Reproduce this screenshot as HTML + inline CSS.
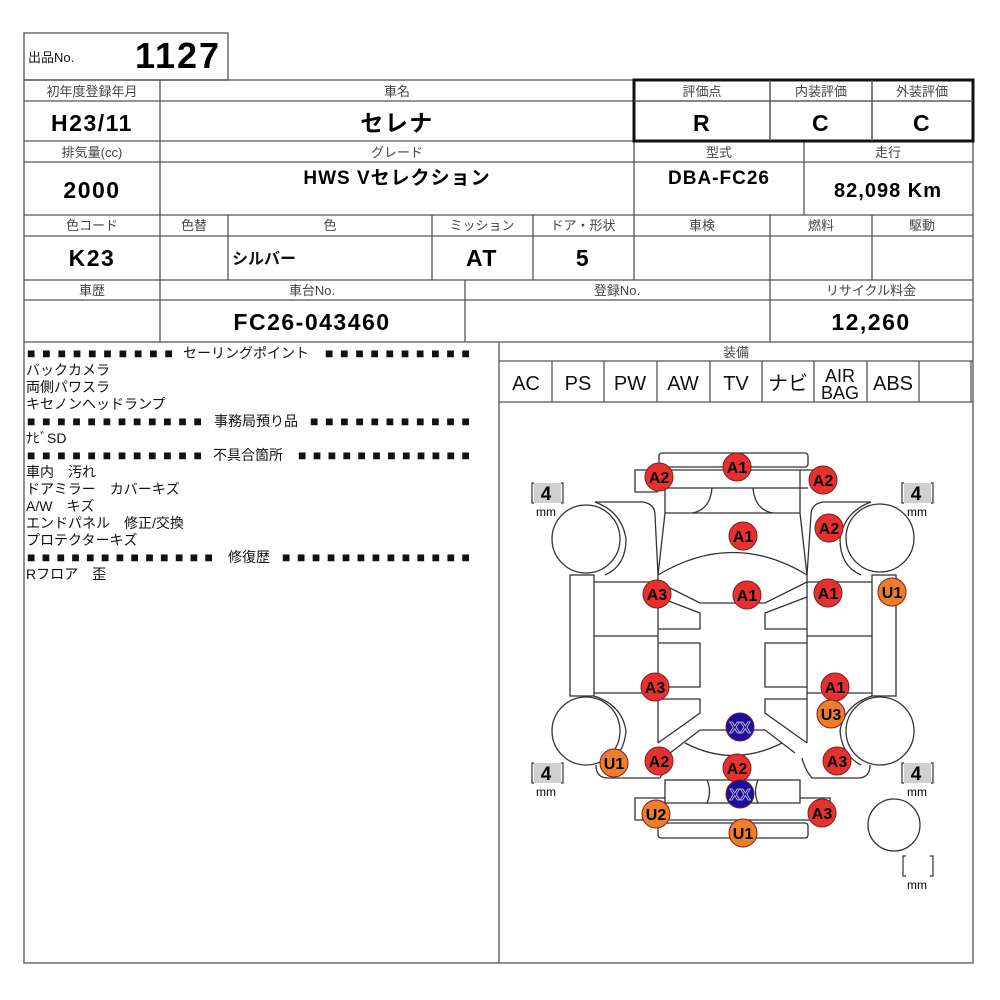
<!DOCTYPE html>
<html><head><meta charset="utf-8"><style>
html,body{margin:0;padding:0;background:#fff;}
svg{display:block;}
text{font-family:"Liberation Sans","Noto Sans CJK JP",sans-serif;}
.lb{font-size:13px;fill:#444;text-anchor:middle;}
.v{font-size:23px;font-weight:bold;fill:#000;text-anchor:middle;letter-spacing:1.5px;}
.t{font-size:14px;fill:#111;}
.eq{font-size:20px;fill:#111;text-anchor:middle;}
.m{font-size:16px;font-weight:bold;text-anchor:middle;fill:#000;}
</style></head><body>
<svg width="1000" height="1000" viewBox="0 0 1000 1000" xmlns="http://www.w3.org/2000/svg">
<g stroke="#555" stroke-width="1.3" fill="none">
<rect x="24" y="33" width="204" height="47"/>
<rect x="24" y="80" width="949" height="883"/>
<line x1="24" y1="101" x2="973" y2="101"/>
<line x1="24" y1="141" x2="973" y2="141"/>
<line x1="24" y1="162" x2="973" y2="162"/>
<line x1="24" y1="215" x2="973" y2="215"/>
<line x1="24" y1="236" x2="973" y2="236"/>
<line x1="24" y1="280" x2="973" y2="280"/>
<line x1="24" y1="300" x2="973" y2="300"/>
<line x1="24" y1="342" x2="973" y2="342"/>
<line x1="160" y1="80" x2="160" y2="342"/>
<line x1="634" y1="80" x2="634" y2="280"/>
<line x1="770" y1="80" x2="770" y2="141"/>
<line x1="872" y1="80" x2="872" y2="141"/>
<line x1="804" y1="141" x2="804" y2="215"/>
<line x1="228" y1="215" x2="228" y2="280"/>
<line x1="432" y1="215" x2="432" y2="280"/>
<line x1="533" y1="215" x2="533" y2="280"/>
<line x1="770" y1="215" x2="770" y2="342"/>
<line x1="872" y1="215" x2="872" y2="280"/>
<line x1="465" y1="280" x2="465" y2="342"/>
<line x1="499" y1="342" x2="499" y2="963"/>
<line x1="499" y1="361" x2="973" y2="361"/>
<line x1="499" y1="402" x2="973" y2="402"/>
<line x1="552" y1="361" x2="552" y2="402"/>
<line x1="604" y1="361" x2="604" y2="402"/>
<line x1="657" y1="361" x2="657" y2="402"/>
<line x1="710" y1="361" x2="710" y2="402"/>
<line x1="762" y1="361" x2="762" y2="402"/>
<line x1="814" y1="361" x2="814" y2="402"/>
<line x1="867" y1="361" x2="867" y2="402"/>
<line x1="919" y1="361" x2="919" y2="402"/>
<line x1="971" y1="361" x2="971" y2="402"/>
</g>
<rect x="634" y="80" width="339" height="61" fill="none" stroke="#111" stroke-width="3"/>
<line x1="770" y1="80" x2="770" y2="141" stroke="#555" stroke-width="1.3"/>
<line x1="872" y1="80" x2="872" y2="141" stroke="#555" stroke-width="1.3"/>
<line x1="634" y1="101" x2="973" y2="101" stroke="#555" stroke-width="1.3"/>

<text x="28" y="62" class="t" style="font-size:13px">出品No.</text>
<text x="178" y="68" style="font-size:36px;font-weight:bold;text-anchor:middle;letter-spacing:2px">1127</text>
<text x="92" y="96" class="lb">初年度登録年月</text>
<text x="397" y="96" class="lb">車名</text>
<text x="702" y="96" class="lb">評価点</text>
<text x="821" y="96" class="lb">内装評価</text>
<text x="922" y="96" class="lb">外装評価</text>
<text x="92" y="131" class="v">H23/11</text>
<text x="397" y="131" class="v">セレナ</text>
<text x="702" y="131" class="v">R</text>
<text x="821" y="131" class="v">C</text>
<text x="922" y="131" class="v">C</text>
<text x="92" y="157" class="lb">排気量(cc)</text>
<text x="397" y="157" class="lb">グレード</text>
<text x="719" y="157" class="lb">型式</text>
<text x="888" y="157" class="lb">走行</text>
<text x="92" y="198" class="v">2000</text>
<text x="397" y="184" class="v" style="font-size:19px;letter-spacing:1px">HWS Vセレクション</text>
<text x="719" y="184" class="v" style="font-size:19px;letter-spacing:1px">DBA-FC26</text>
<text x="888" y="197" class="v" style="font-size:20px;letter-spacing:1px">82,098 Km</text>
<text x="92" y="230" class="lb">色コード</text>
<text x="194" y="230" class="lb">色替</text>
<text x="330" y="230" class="lb">色</text>
<text x="482" y="230" class="lb">ミッション</text>
<text x="583" y="230" class="lb">ドア・形状</text>
<text x="702" y="230" class="lb">車検</text>
<text x="821" y="230" class="lb">燃料</text>
<text x="922" y="230" class="lb">駆動</text>
<text x="92" y="266" class="v">K23</text>
<text x="232" y="264" class="t" style="font-size:16px;font-weight:bold">シルバー</text>
<text x="482" y="266" class="v">AT</text>
<text x="583" y="266" class="v">5</text>
<text x="92" y="295" class="lb">車歴</text>
<text x="312" y="295" class="lb">車台No.</text>
<text x="617" y="295" class="lb">登録No.</text>
<text x="871" y="295" class="lb">リサイクル料金</text>
<text x="312" y="330" class="v">FC26-043460</text>
<text x="871" y="330" class="v">12,260</text>

<g class="t">
<text x="27" y="358" textLength="146" lengthAdjust="spacing">■■■■■■■■■■</text>
<text x="183" y="358">セーリングポイント</text>
<text x="325" y="358" textLength="145" lengthAdjust="spacing">■■■■■■■■■■</text>
<text x="26" y="375">バックカメラ</text>
<text x="26" y="392">両側パワスラ</text>
<text x="26" y="409">キセノンヘッドランプ</text>
<text x="27" y="426" textLength="175" lengthAdjust="spacing">■■■■■■■■■■■■</text>
<text x="214" y="426">事務局預り品</text>
<text x="310" y="426" textLength="160" lengthAdjust="spacing">■■■■■■■■■■■</text>
<text x="26" y="443">ﾅﾋﾞSD</text>
<text x="27" y="460" textLength="175" lengthAdjust="spacing">■■■■■■■■■■■■</text>
<text x="213" y="460">不具合箇所</text>
<text x="298" y="460" textLength="172" lengthAdjust="spacing">■■■■■■■■■■■■</text>
<text x="26" y="477">車内　汚れ</text>
<text x="26" y="494">ドアミラー　カバーキズ</text>
<text x="26" y="511">A/W　キズ</text>
<text x="26" y="528">エンドパネル　修正/交換</text>
<text x="26" y="545">プロテクターキズ</text>
<text x="27" y="562" textLength="186" lengthAdjust="spacing">■■■■■■■■■■■■■</text>
<text x="228" y="562">修復歴</text>
<text x="282" y="562" textLength="188" lengthAdjust="spacing">■■■■■■■■■■■■■</text>
<text x="26" y="579">Rフロア　歪</text>
</g>

<text x="736" y="357" class="lb">装備</text>
<text x="526" y="390" class="eq">AC</text>
<text x="578" y="390" class="eq">PS</text>
<text x="630" y="390" class="eq">PW</text>
<text x="683" y="390" class="eq">AW</text>
<text x="736" y="390" class="eq">TV</text>
<text x="788" y="390" class="eq">ナビ</text>
<text x="840" y="382" class="eq" style="font-size:18px">AIR</text>
<text x="840" y="399" class="eq" style="font-size:18px">BAG</text>
<text x="893" y="390" class="eq">ABS</text>

<g stroke="#333" stroke-width="1.3" fill="none">
<rect x="659" y="453" width="149" height="14" rx="3"/>
<path d="M659,470 L635,470 L635,492 L658,492"/>
<path d="M665,470 L830,470 L830,488"/>
<line x1="665" y1="470" x2="665" y2="513"/>
<line x1="800" y1="470" x2="800" y2="513"/>
<line x1="658" y1="488" x2="808" y2="488"/>
<line x1="665" y1="513" x2="800" y2="513"/>
<path d="M712,488 Q710,510 692,513"/>
<path d="M753,488 Q755,510 773,513"/>
<line x1="665" y1="513" x2="658" y2="575"/>
<line x1="800" y1="513" x2="807" y2="575"/>
<path d="M658,575 Q733,530 807,575"/>
<circle cx="586" cy="539" r="34"/><circle cx="880" cy="538" r="34"/>
<circle cx="586" cy="731" r="34"/><circle cx="880" cy="731" r="34"/>
<circle cx="894" cy="825" r="26"/>
<path d="M595,502 L643,502 Q655,504 655,515 L658,575"/>
<path d="M595,502 Q622,512 626,539 Q626,566 605,575"/>
<path d="M871,502 L823,502 Q811,504 811,515 L807,575"/>
<path d="M871,502 Q844,512 840,539 Q840,566 861,575"/>
<rect x="570" y="575" width="24" height="121"/>
<rect x="872" y="575" width="24" height="121"/>
<line x1="658" y1="575" x2="658" y2="743"/>
<line x1="807" y1="575" x2="807" y2="743"/>
<line x1="594" y1="582" x2="658" y2="582"/>
<line x1="594" y1="636" x2="658" y2="636"/>
<line x1="594" y1="693" x2="658" y2="693"/>
<line x1="807" y1="582" x2="872" y2="582"/>
<line x1="807" y1="636" x2="872" y2="636"/>
<line x1="807" y1="693" x2="872" y2="693"/>
<path d="M658,582 L700,603 L765,603 L807,582"/>
<path d="M658,597 L700,613 L700,629 L658,629"/>
<path d="M807,597 L765,613 L765,629 L807,629"/>
<path d="M658,643 L700,643 L700,687 L658,687"/>
<path d="M807,643 L765,643 L765,687 L807,687"/>
<path d="M658,699 L700,699 L700,713 L658,743"/>
<path d="M807,699 L765,699 L765,713 L807,743"/>
<path d="M670,753 L700,730 L765,730 L795,753"/>
<path d="M685,743 Q733,768 782,743"/>
<path d="M594,696 Q622,705 626,731 Q624,755 605,765"/>
<path d="M872,696 Q844,705 840,731 Q842,755 861,765"/>
<path d="M596,765 Q596,778 608,778 L660,778 L670,760"/>
<path d="M870,765 Q870,778 858,778 L812,778 Q805,770 802,758"/>
<rect x="665" y="780" width="135" height="23"/>
<path d="M707,780 Q712,792 707,803"/>
<path d="M758,780 Q753,792 758,803"/>
<path d="M665,798 L635,798 L635,820 L830,820 L830,798 L800,798"/>
<rect x="658" y="823" width="150" height="15" rx="3"/>
</g>

<g>
<rect x="534" y="483" width="27" height="20" fill="#d0d0d0"/>
<text x="546" y="500" style="font-size:19px;font-weight:bold;text-anchor:middle">4</text>
<text x="546" y="516" style="font-size:12px;text-anchor:middle">mm</text>
<rect x="904" y="483" width="27" height="20" fill="#d0d0d0"/>
<text x="916" y="500" style="font-size:19px;font-weight:bold;text-anchor:middle">4</text>
<text x="917" y="516" style="font-size:12px;text-anchor:middle">mm</text>
<rect x="534" y="763" width="27" height="20" fill="#d0d0d0"/>
<text x="546" y="780" style="font-size:19px;font-weight:bold;text-anchor:middle">4</text>
<text x="546" y="796" style="font-size:12px;text-anchor:middle">mm</text>
<rect x="904" y="763" width="27" height="20" fill="#d0d0d0"/>
<text x="916" y="780" style="font-size:19px;font-weight:bold;text-anchor:middle">4</text>
<text x="917" y="796" style="font-size:12px;text-anchor:middle">mm</text>
<text x="917" y="889" style="font-size:12px;text-anchor:middle">mm</text>
</g>
<g stroke="#333" stroke-width="1.2" fill="none">
<path d="M534,483 L532,483 L532,503 L534,503"/><path d="M561,483 L563,483 L563,503 L561,503"/>
<path d="M904,483 L902,483 L902,503 L904,503"/><path d="M931,483 L933,483 L933,503 L931,503"/>
<path d="M534,763 L532,763 L532,783 L534,783"/><path d="M561,763 L563,763 L563,783 L561,783"/>
<path d="M904,763 L902,763 L902,783 L904,783"/><path d="M931,763 L933,763 L933,783 L931,783"/>
<path d="M906,856 L903,856 L903,876 L906,876"/><path d="M930,856 L933,856 L933,876 L930,876"/>
</g>

<g stroke="#7a2020" stroke-width="1">
<circle cx="737" cy="467" r="14" fill="#e8302f"/>
<circle cx="659" cy="477" r="14" fill="#e8302f"/>
<circle cx="823" cy="480" r="14" fill="#e8302f"/>
<circle cx="829" cy="528" r="14" fill="#e8302f"/>
<circle cx="743" cy="536" r="14" fill="#e8302f"/>
<circle cx="657" cy="594" r="14" fill="#e8302f"/>
<circle cx="747" cy="595" r="14" fill="#e8302f"/>
<circle cx="828" cy="593" r="14" fill="#e8302f"/>
<circle cx="892" cy="592" r="14" fill="#ee7d2c"/>
<circle cx="655" cy="687" r="14" fill="#e8302f"/>
<circle cx="835" cy="687" r="14" fill="#e8302f"/>
<circle cx="831" cy="714" r="14" fill="#ee7d2c"/>
<circle cx="740" cy="727" r="14" fill="#1c0ea0"/>
<circle cx="614" cy="763" r="14" fill="#ee7d2c"/>
<circle cx="659" cy="761" r="14" fill="#e8302f"/>
<circle cx="737" cy="768" r="14" fill="#e8302f"/>
<circle cx="837" cy="761" r="14" fill="#e8302f"/>
<circle cx="740" cy="794" r="14" fill="#1c0ea0"/>
<circle cx="656" cy="814" r="14" fill="#ee7d2c"/>
<circle cx="822" cy="813" r="14" fill="#e8302f"/>
<circle cx="743" cy="833" r="14" fill="#ee7d2c"/>
</g>
<g class="m">
<text x="737" y="473">A1</text>
<text x="659" y="483">A2</text>
<text x="823" y="486">A2</text>
<text x="829" y="534">A2</text>
<text x="743" y="542">A1</text>
<text x="657" y="600">A3</text>
<text x="747" y="601">A1</text>
<text x="828" y="599">A1</text>
<text x="892" y="598">U1</text>
<text x="655" y="693">A3</text>
<text x="835" y="693">A1</text>
<text x="831" y="720">U3</text>
<text x="740" y="733" style="fill:#1c0ea0;stroke:#ccc;stroke-width:0.8">XX</text>
<text x="614" y="769">U1</text>
<text x="659" y="767">A2</text>
<text x="737" y="774">A2</text>
<text x="837" y="767">A3</text>
<text x="740" y="800" style="fill:#1c0ea0;stroke:#ccc;stroke-width:0.8">XX</text>
<text x="656" y="820">U2</text>
<text x="822" y="819">A3</text>
<text x="743" y="839">U1</text>
</g>
</svg>
</body></html>
